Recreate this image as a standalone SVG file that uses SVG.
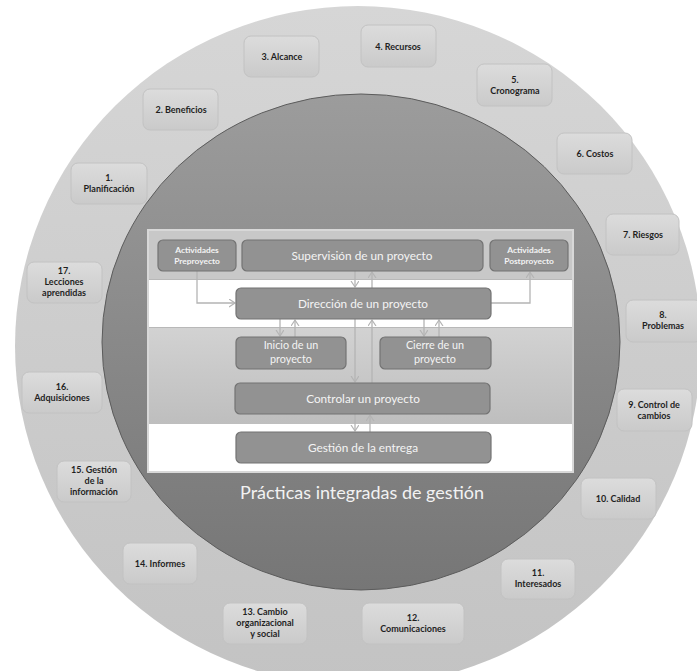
<svg xmlns="http://www.w3.org/2000/svg" width="697" height="671" viewBox="0 0 697 671">
  <defs>
    <linearGradient id="ringGrad" x1="0" y1="0" x2="0" y2="1">
      <stop offset="0" stop-color="#d6d6d6"/>
      <stop offset="1" stop-color="#c3c3c3"/>
    </linearGradient>
    <linearGradient id="coreGrad" x1="0" y1="0" x2="0" y2="1">
      <stop offset="0" stop-color="#9c9c9c"/>
      <stop offset="1" stop-color="#767676"/>
    </linearGradient>
    <linearGradient id="tileGrad" x1="0" y1="0" x2="0" y2="1">
      <stop offset="0" stop-color="#dcdcdc"/>
      <stop offset="1" stop-color="#cacaca"/>
    </linearGradient>
    <linearGradient id="bandGrad" x1="0" y1="0" x2="0" y2="1">
      <stop offset="0" stop-color="#d2d2d2"/>
      <stop offset="1" stop-color="#bebebe"/>
    </linearGradient>
    <marker id="chev" markerWidth="10" markerHeight="10" refX="6" refY="4" orient="auto" markerUnits="userSpaceOnUse">
      <path d="M0,0 L6,4 L0,8" fill="none" stroke="#b4b4b4" stroke-width="1.2"/>
    </marker>
    <style>
      .tile { fill: url(#tileGrad); stroke: #c2c2c2; stroke-width: 1; }
      .tile-t { font-family: Lato, "Liberation Sans", sans-serif; font-weight: 700; font-size: 9px; fill: #1f1f1f; text-anchor: middle; }
      .proc { fill: #929292; stroke: #737373; stroke-width: 1.2; }
      .proc-t { font-family: Lato, "Open Sans", sans-serif; font-size: 11.8px; fill: #f4f4f4; text-anchor: middle; }
      .proc-2 { font-family: Lato, "Open Sans", sans-serif; font-size: 10.8px; fill: #f4f4f4; text-anchor: middle; }
      .proc-s { font-family: Lato, "Open Sans", sans-serif; font-weight: 700; font-size: 8.4px; fill: #f4f4f4; text-anchor: middle; }
      .link { fill: none; stroke: #b4b4b4; stroke-width: 1.3; marker-end: url(#chev); }
    </style>
  </defs>

  <!-- outer ring and inner core -->
  <ellipse cx="358" cy="346" rx="343" ry="340" fill="url(#ringGrad)"/>
  <ellipse cx="361" cy="342" rx="259" ry="248" fill="url(#coreGrad)" stroke="#5c5c5c" stroke-width="1"/>

  <!-- process panel bands -->
  <g id="panel">
    <rect x="148" y="230" width="425" height="242" fill="#ffffff" stroke="#d8d8d8" stroke-width="2"/>
    <rect x="149" y="231" width="423" height="48" fill="#c8c8c8"/>
    <rect x="149" y="279" width="423" height="1" fill="#b8b8b8"/>
    <rect x="149" y="328" width="423" height="96" fill="url(#bandGrad)"/>
    <rect x="149" y="327" width="423" height="1" fill="#b8b8b8"/>
  </g>

  <!-- connectors -->
  <g id="connectors">
    <path class="link" d="M197,271 V303 H235"/>
    <path class="link" d="M491,303 H530 V272"/>
    <path class="link" d="M355,271 V287"/>
    <path class="link" d="M372,288 V272"/>
    <path class="link" d="M280,319 V336"/>
    <path class="link" d="M295,337 V320"/>
    <path class="link" d="M424,319 V336"/>
    <path class="link" d="M439,337 V320"/>
    <path class="link" d="M355,319 V382"/>
    <path class="link" d="M372,383 V320"/>
    <path class="link" d="M355,414 V431"/>
    <path class="link" d="M370,432 V415"/>
  </g>

  <!-- inner process boxes -->
  <g id="pre"><rect class="proc" x="158" y="240" width="78" height="31" rx="5"/>
    <text class="proc-s" x="197" y="253">Actividades</text><text class="proc-s" x="197" y="264">Preproyecto</text></g>
  <g id="supervision"><rect class="proc" x="242" y="240" width="241" height="31" rx="5"/>
    <text class="proc-t" x="362" y="260">Supervisión de un proyecto</text></g>
  <g id="post"><rect class="proc" x="490" y="240" width="78" height="31" rx="5"/>
    <text class="proc-s" x="529" y="253">Actividades</text><text class="proc-s" x="529" y="264">Postproyecto</text></g>
  <g id="direccion"><rect class="proc" x="236" y="288" width="255" height="31" rx="5"/>
    <text class="proc-t" x="363" y="308">Dirección de un proyecto</text></g>
  <g id="inicio"><rect class="proc" x="236" y="337" width="110" height="32" rx="5"/>
    <text class="proc-2" x="291" y="349">Inicio de un</text><text class="proc-2" x="291" y="363">proyecto</text></g>
  <g id="cierre"><rect class="proc" x="380" y="337" width="111" height="32" rx="5"/>
    <text class="proc-2" x="435" y="349">Cierre de un</text><text class="proc-2" x="435" y="363">proyecto</text></g>
  <g id="controlar"><rect class="proc" x="235" y="383" width="255" height="31" rx="5"/>
    <text class="proc-t" x="363" y="403" font-size="11">Controlar un proyecto</text></g>
  <g id="entrega"><rect class="proc" x="236" y="432" width="255" height="31" rx="5"/>
    <text class="proc-t" x="363" y="452" font-size="11">Gestión de la entrega</text></g>

  <text x="362" y="499" font-family="Lato, 'Open Sans', sans-serif" font-size="18" fill="#f2f2f2" text-anchor="middle">Prácticas integradas de gestión</text>

  <!-- practice tiles around the ring -->
  <g id="p1"><rect class="tile" x="71" y="163" width="76" height="41" rx="7"/>
    <text class="tile-t" x="109" y="181">1.</text><text class="tile-t" x="109" y="192">Planificación</text></g>
  <g id="p2"><rect class="tile" x="143" y="89" width="75" height="41" rx="7"/>
    <text class="tile-t" x="181" y="113">2. Beneficios</text></g>
  <g id="p3"><rect class="tile" x="244" y="36" width="75" height="41" rx="7"/>
    <text class="tile-t" x="282" y="60">3. Alcance</text></g>
  <g id="p4"><rect class="tile" x="361" y="25" width="75" height="42" rx="7"/>
    <text class="tile-t" x="398" y="50">4. Recursos</text></g>
  <g id="p5"><rect class="tile" x="477" y="64" width="75" height="42" rx="7"/>
    <text class="tile-t" x="515" y="83">5.</text><text class="tile-t" x="515" y="94">Cronograma</text></g>
  <g id="p6"><rect class="tile" x="557" y="133" width="75" height="41" rx="7"/>
    <text class="tile-t" x="595" y="157">6. Costos</text></g>
  <g id="p7"><rect class="tile" x="606" y="214" width="73" height="41" rx="7"/>
    <text class="tile-t" x="643" y="238">7. Riesgos</text></g>
  <g id="p8"><rect class="tile" x="626" y="300" width="76" height="42" rx="7"/>
    <text class="tile-t" x="663" y="318">8.</text><text class="tile-t" x="663" y="329">Problemas</text></g>
  <g id="p9"><rect class="tile" x="617" y="389" width="75" height="42" rx="7"/>
    <text class="tile-t" x="654" y="408">9. Control de</text><text class="tile-t" x="654" y="419">cambios</text></g>
  <g id="p10"><rect class="tile" x="581" y="478" width="75" height="41" rx="7"/>
    <text class="tile-t" x="618" y="502">10. Calidad</text></g>
  <g id="p11"><rect class="tile" x="501" y="559" width="74" height="40" rx="7"/>
    <text class="tile-t" x="538" y="576">11.</text><text class="tile-t" x="538" y="587">Interesados</text></g>
  <g id="p12"><rect class="tile" x="362" y="603" width="102" height="41" rx="7"/>
    <text class="tile-t" x="413" y="621">12.</text><text class="tile-t" x="413" y="632">Comunicaciones</text></g>
  <g id="p13"><rect class="tile" x="223" y="603" width="84" height="41" rx="7"/>
    <text class="tile-t" x="265" y="615">13. Cambio</text><text class="tile-t" x="265" y="626">organizacional</text><text class="tile-t" x="265" y="637">y social</text></g>
  <g id="p14"><rect class="tile" x="123" y="543" width="74" height="41" rx="7"/>
    <text class="tile-t" x="160" y="567">14. Informes</text></g>
  <g id="p15"><rect class="tile" x="57" y="461" width="74" height="41" rx="7"/>
    <text class="tile-t" x="94" y="473">15. Gestión</text><text class="tile-t" x="94" y="484">de la</text><text class="tile-t" x="94" y="495">información</text></g>
  <g id="p16"><rect class="tile" x="22" y="372" width="80" height="41" rx="7"/>
    <text class="tile-t" x="62" y="390">16.</text><text class="tile-t" x="62" y="401">Adquisiciones</text></g>
  <g id="p17"><rect class="tile" x="27" y="262" width="75" height="41" rx="7"/>
    <text class="tile-t" x="64" y="274">17.</text><text class="tile-t" x="64" y="285">Lecciones</text><text class="tile-t" x="64" y="296">aprendidas</text></g>
</svg>
